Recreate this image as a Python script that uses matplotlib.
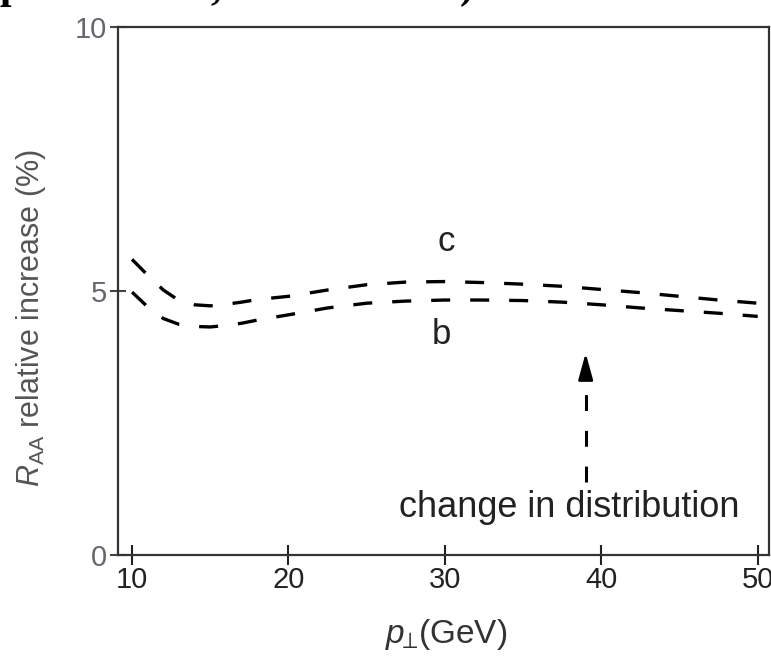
import numpy as np
import matplotlib
matplotlib.use('Agg')
import matplotlib.pyplot as plt

plt.rcParams['font.family'] = ['Liberation Sans', 'DejaVu Sans']
plt.rcParams['mathtext.fontset'] = 'custom'
plt.rcParams['mathtext.rm'] = 'Liberation Sans'
plt.rcParams['mathtext.it'] = 'Liberation Sans:italic'
plt.rcParams['mathtext.sf'] = 'Liberation Sans'

# transverse momentum grid (GeV) and relative R_AA increase (%) for the two cases
pt = [10, 11, 12, 13, 14, 15, 16, 17, 18, 20, 22.5, 25, 27.5, 30, 32.5, 35, 37.5, 40, 42.5, 45, 47.5, 50]
raa_c = [5.60, 5.30, 5.02, 4.82, 4.74, 4.72, 4.75, 4.79, 4.84, 4.90, 5.02, 5.12, 5.17, 5.18, 5.16,
         5.13, 5.09, 5.03, 4.97, 4.90, 4.83, 4.77]
raa_b = [4.98, 4.70, 4.48, 4.37, 4.33, 4.32, 4.35, 4.39, 4.45, 4.55, 4.68, 4.77, 4.81, 4.83, 4.83,
         4.82, 4.79, 4.74, 4.68, 4.63, 4.58, 4.52]

xticks = [10, 20, 30, 40, 50]
yticks = [0, 5, 10]

fig = plt.figure(figsize=(7.71, 6.57), dpi=100)
ax = fig.add_axes([0.153, 0.155, 0.844, 0.804])

dash = (5.7, 6.0)
ax.plot(pt, raa_c, color='black', lw=2.4, dashes=dash)
ax.plot(pt, raa_b, color='black', lw=2.4, dashes=dash)

ax.text(30.1, 5.93, 'c', fontsize=25, ha='center', va='center', color='#222222')
ax.text(29.8, 4.17, 'b', fontsize=25, ha='center', va='center', color='#222222')

# dashed arrow pointing at the curves
ax.plot([39.0, 39.0], [1.38, 3.07], color='black', lw=2.2, dashes=(5.2, 6.5))
ax.annotate('', xy=(39.0, 3.88), xytext=(39.0, 3.46),
            arrowprops=dict(arrowstyle='-|>,head_length=0.8,head_width=0.22',
                            color='black', lw=2.0, mutation_scale=20))
ax.text(37.95, 0.91, 'change in distribution', fontsize=26, ha='center', va='center', color='#222222')

ax.set_xlim(9.1, 50.7)
ax.set_ylim(0, 10)
ax.set_xticks(xticks)
ax.set_yticks(yticks)
ax.tick_params(axis='x', direction='inout', length=14, width=1.5, labelsize=21, pad=1,
               colors='#222222')
ax.tick_params(axis='y', direction='inout', length=12, width=1.5, labelsize=21, pad=2,
               colors='#444444', labelcolor='#66666c')
for s in ax.spines.values():
    s.set_color('#333333')
    s.set_linewidth(1.6)

ax.set_xlabel(r'$p_{\!\!\perp}\!$(GeV)', fontsize=24, color='#333333')
ax.xaxis.set_label_coords(0.505, -0.118)
ax.set_ylabel(r'$R_{\mathrm{AA}}$ relative increase (%)', fontsize=22, color='#555555')
ax.yaxis.set_label_coords(-0.108, 0.449)

# caption fragment above the figure
cap = dict(fontfamily='Liberation Serif', fontweight='bold', fontsize=30, va='bottom')
fig.text(0.0, 1 - 7 / 657, 'p', **cap)
fig.text(210 / 771, 1 - 7 / 657, ',', **cap)
fig.text(460 / 771, 1 - 7 / 657, ')', **cap)

fig.savefig('out.png', dpi=100)
